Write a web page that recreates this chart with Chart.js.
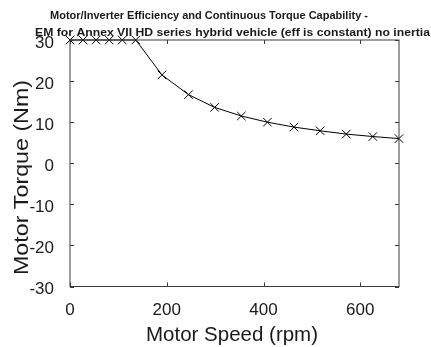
<!DOCTYPE html>
<html>
<head>
<meta charset="utf-8">
<script src="https://cdn.jsdelivr.net/npm/chart.js@4.4.1/dist/chart.umd.min.js"></script>
<style>
  html, body { margin: 0; padding: 0; background: #fff; }
  #wrap { width: 431px; height: 347px; }
</style>
</head>
<body>
<div id="wrap"><canvas id="chart"></canvas></div>
<script>
  // ── Data ────────────────────────────────────────────────────────────────
  const speedRpm  = [0, 27, 54, 81, 108, 136, 190, 245, 299, 354, 408, 463, 517, 571, 626, 680];
  const torqueNm  = [30, 30, 30, 30, 30, 30, 21.5, 16.7, 13.6, 11.5, 10.0, 8.8, 7.9, 7.1, 6.5, 6.0];
  const xTicks    = [0, 200, 400, 600];
  const yTicks    = [-30, -20, -10, 0, 10, 20, 30];
  const titleLines = [
    "Motor/Inverter Efficiency and Continuous Torque Capability -",
    "EM for Annex VII HD series hybrid vehicle (eff is constant) no inertia",
  ];
  const xTitle = "Motor Speed (rpm)";
  const yTitle = "Motor Torque (Nm)";

  const INK   = "#1a1a1a";
  const AXIS  = "#3a3a3a";
  const FONT  = "'Liberation Sans', Arial, sans-serif";

  // draw text centred at (cx, cy), stretched along its baseline to a given width
  function fitText(ctx, text, cx, cy, width, font, angle) {
    ctx.save();
    ctx.font = font;
    ctx.translate(cx, cy);
    if (angle) ctx.rotate(angle);
    const w = ctx.measureText(text).width;
    ctx.scale(width / w, 1);
    ctx.fillText(text, 0, 0);
    ctx.restore();
  }

  // ── Box, inward ticks and titles (MATLAB look) ──────────────────────────
  const framePlugin = {
    id: "frame",
    afterDraw(chart) {
      const { ctx, chartArea: a, scales } = chart;
      const len = 4;
      ctx.save();
      ctx.strokeStyle = AXIS;
      ctx.lineWidth = 1;
      ctx.strokeRect(a.left, a.top, a.right - a.left, a.bottom - a.top);
      ctx.beginPath();
      xTicks.forEach(v => {
        const px = Math.round(scales.x.getPixelForValue(v)) + 0.5;
        ctx.moveTo(px, a.bottom); ctx.lineTo(px, a.bottom - len);
        ctx.moveTo(px, a.top);    ctx.lineTo(px, a.top + len);
      });
      yTicks.forEach(v => {
        const py = Math.round(scales.y.getPixelForValue(v)) + 0.5;
        ctx.moveTo(a.left, py);  ctx.lineTo(a.left + len, py);
        ctx.moveTo(a.right, py); ctx.lineTo(a.right - len, py);
      });
      ctx.stroke();

      ctx.fillStyle = INK;
      ctx.textAlign = "center";
      ctx.textBaseline = "middle";
      fitText(ctx, titleLines[0], 209, 16, 318, "bold 11px " + FONT);
      fitText(ctx, titleLines[1], 232.5, 33, 395, "bold 11px " + FONT);
      fitText(ctx, xTitle, 232, 335, 172, "20px " + FONT);
      fitText(ctx, yTitle, 22, 177.5, 195, "21px " + FONT, -Math.PI / 2);
      ctx.restore();
    },
  };

  new Chart(document.getElementById("chart"), {
    type: "line",
    data: {
      datasets: [{
        data: speedRpm.map((x, i) => ({ x, y: torqueNm[i] })),
        borderColor: "#000",
        borderWidth: 1,
        pointStyle: "crossRot",
        pointRadius: 6,
        pointBorderColor: "#000",
        pointBorderWidth: 1,
        tension: 0,
        clip: false,
      }],
    },
    options: {
      responsive: true,
      maintainAspectRatio: false,
      animation: false,
      layout: { padding: { left: 0, right: 32, top: 40, bottom: 0 } },
      plugins: {
        legend: { display: false },
        tooltip: { enabled: false },
      },
      scales: {
        x: {
          type: "linear",
          min: 0,
          max: 680,
          afterFit: (s) => { s.height = 60.5; },
          afterBuildTicks: (s) => { s.ticks = xTicks.map(v => ({ value: v })); },
          grid: { display: false },
          border: { display: false },
          ticks: {
            color: INK,
            padding: 6,
            font: { family: FONT, size: 17 },
            maxRotation: 0,
          },
        },
        y: {
          min: -30,
          max: 30,
          afterFit: (s) => { s.width = 70; },
          afterBuildTicks: (s) => { s.ticks = yTicks.map(v => ({ value: v })); },
          grid: { display: false },
          border: { display: false },
          ticks: {
            color: INK,
            padding: 8,
            labelOffset: 3,
            font: { family: FONT, size: 17 },
          },
        },
      },
    },
    plugins: [framePlugin],
  });
</script>
</body>
</html>
